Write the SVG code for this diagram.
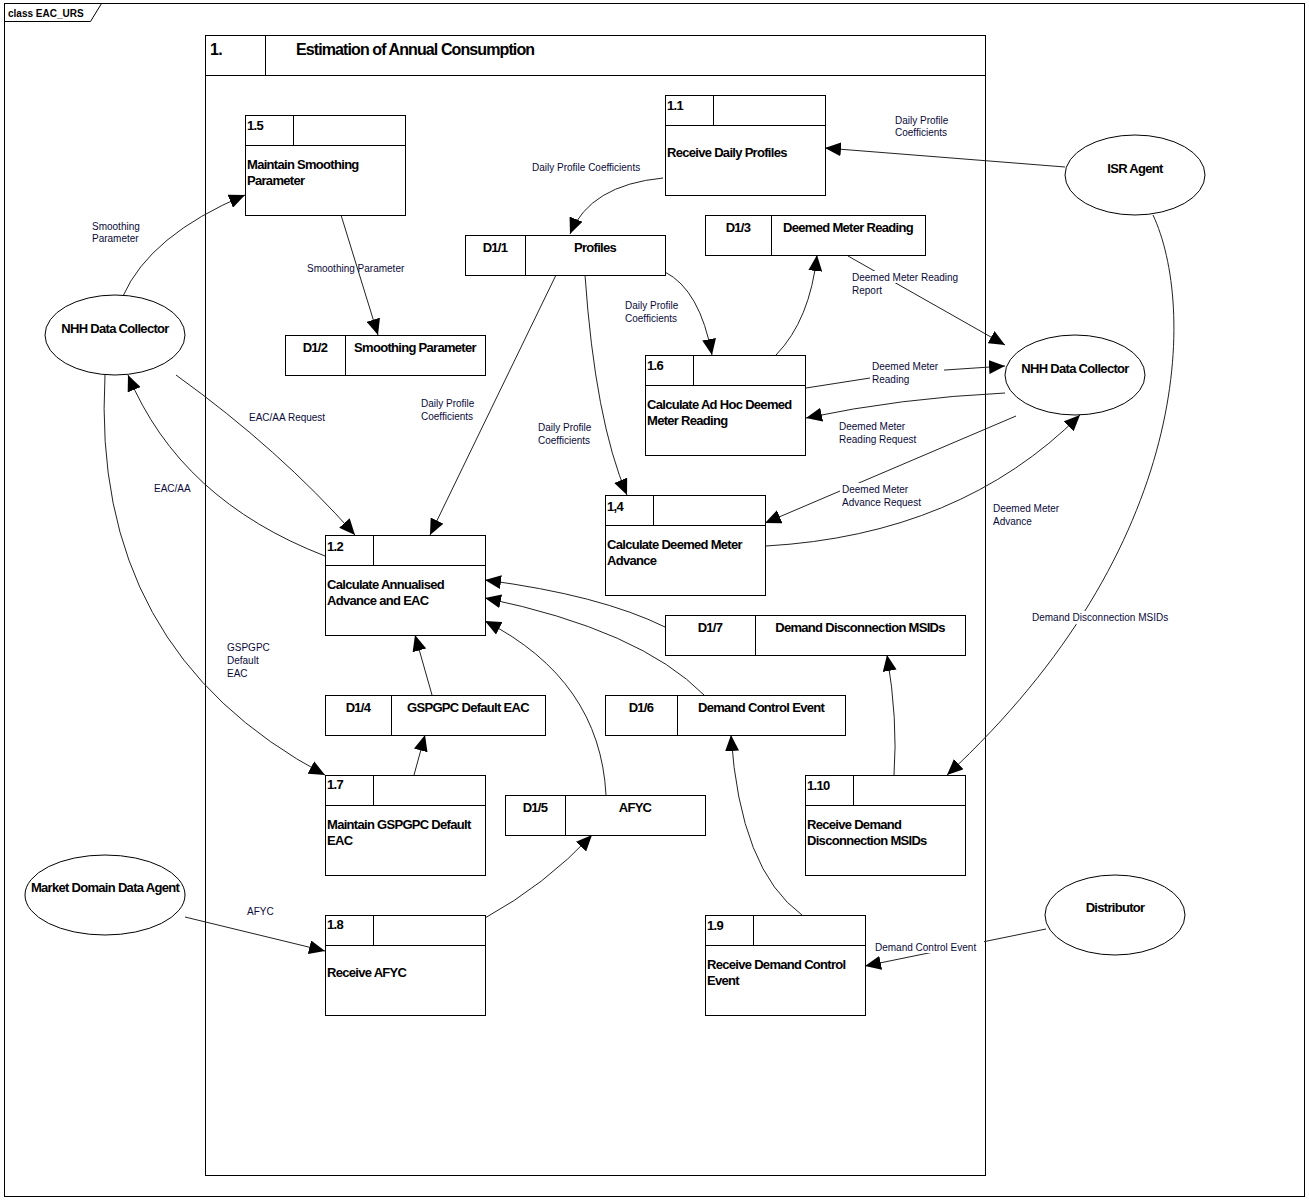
<svg xmlns="http://www.w3.org/2000/svg" width="1309" height="1201" viewBox="0 0 1309 1201">
<style>
.box{fill:#fff;stroke:#000;stroke-width:1}
.ln{fill:none;stroke:#000;stroke-width:1}
.edge{fill:none;stroke:#222;stroke-width:1;marker-end:url(#arr)}
.nt{font-family:"Liberation Sans",Arial,sans-serif;font-weight:bold;font-size:13px;letter-spacing:-0.7px;fill:#000}
.ds{font-family:"Liberation Sans",Arial,sans-serif;font-weight:bold;font-size:13px;letter-spacing:-0.7px;fill:#000;text-anchor:middle}
.el{font-family:"Liberation Sans",Arial,sans-serif;font-size:10px;fill:#0a0a3a}
.bg{fill:#fff}
</style>
<defs>
<marker id="arr" markerUnits="userSpaceOnUse" markerWidth="16" markerHeight="14" viewBox="0 0 16 14" refX="16" refY="7" orient="auto">
<path d="M0,0 L16,7 L0,14 z" fill="#000"/>
</marker>
</defs>
<rect width="1309" height="1201" fill="#fff"/>
<g id="frame">
<rect class="ln" x="4.5" y="3.5" width="1300" height="1193"/>
<path class="ln" d="M4.5,21.5 L90.5,21.5 L101.5,3.5"/>
<text x="8" y="17" font-family="Liberation Sans,Arial,sans-serif" font-weight="bold" font-size="10">class EAC_URS</text>
</g>
<g id="container">
<rect class="box" x="205.5" y="35.5" width="780" height="1140"/>
<path class="ln" d="M205.5,75.5 H985.5 M265.5,35.5 V75.5"/>
<text x="210" y="55" class="nt" style="font-size:16px">1.</text>
<text x="296" y="55" class="nt" style="font-size:16px;letter-spacing:-0.9px">Estimation of Annual Consumption</text>
</g>

<g id="connectors">
<path class="edge" d="M123,296 Q150,235 245,195"/>
<path class="edge" d="M341,215 L378,335"/>
<path class="edge" d="M663,178 Q590,185 570,234"/>
<path class="edge" d="M1065,167 L825,148"/>
<path class="edge" d="M556,275 L430,535"/>
<path class="edge" d="M585,275 Q595,420 627,495"/>
<path class="edge" d="M665,272 Q700,290 712,355"/>
<path class="edge" d="M776,355 Q810,320 817,255"/>
<path class="edge" d="M848,256 L1005,345"/>
<path class="edge" d="M806,388 L870,378 L945,370 L1005,366"/>
<path class="edge" d="M1005,393 Q900,398 806,418"/>
<path class="edge" d="M1016,416 L765,523"/>
<path class="edge" d="M766,546 Q960,535 1080,415"/>
<path class="edge" d="M176,375 Q280,450 355,535"/>
<path class="edge" d="M325,556 Q180,500 128,375"/>
<path class="edge" d="M105,375 Q90,650 325,775"/>
<path class="edge" d="M414,775 L425,735"/>
<path class="edge" d="M432,695 L415,635"/>
<path class="edge" d="M606,795 Q600,680 485,621"/>
<path class="edge" d="M704,695 Q640,630 485,598"/>
<path class="edge" d="M665,627 Q600,595 485,580"/>
<path class="edge" d="M894,775 Q898,720 887,655"/>
<path class="edge" d="M1153,215 C1195,305 1195,545 947,775"/>
<path class="edge" d="M802,915 Q740,870 731,735"/>
<path class="edge" d="M485,918 Q545,885 592,835"/>
<path class="edge" d="M185,917 L325,951"/>
<path class="edge" d="M1046,929 L865,966"/>
<g id="labels">
<text class="el" x="92" y="229.5">Smoothing</text>
<text class="el" x="92" y="242">Parameter</text>
<text class="el" x="307" y="271.5">Smoothing Parameter</text>
<text class="el" x="532" y="171">Daily Profile Coefficients</text>
<text class="el" x="895" y="123.5">Daily Profile</text>
<text class="el" x="895" y="136">Coefficients</text>
<text class="el" x="625" y="309">Daily Profile</text>
<text class="el" x="625" y="322">Coefficients</text>
<rect class="bg" x="850" y="271" width="116" height="12"/>
<rect class="bg" x="850" y="284" width="36" height="12"/>
<text class="el" x="852" y="280.5">Deemed Meter Reading</text>
<text class="el" x="852" y="293.5">Report</text>
<rect class="bg" x="870" y="360" width="74" height="25"/>
<text class="el" x="872" y="369.5">Deemed Meter</text>
<text class="el" x="872" y="382.5">Reading</text>
<text class="el" x="839" y="429.5">Deemed Meter</text>
<text class="el" x="839" y="442.5">Reading Request</text>
<rect class="bg" x="840" y="483" width="86" height="25"/>
<text class="el" x="842" y="492.5">Deemed Meter</text>
<text class="el" x="842" y="505.5">Advance Request</text>
<text class="el" x="993" y="511.5">Deemed Meter</text>
<text class="el" x="993" y="524.5">Advance</text>
<text class="el" x="421" y="406.5">Daily Profile</text>
<text class="el" x="421" y="419.5">Coefficients</text>
<text class="el" x="538" y="430.5">Daily Profile</text>
<text class="el" x="538" y="443.5">Coefficients</text>
<text class="el" x="249" y="420.5">EAC/AA Request</text>
<text class="el" x="154" y="491.5">EAC/AA</text>
<text class="el" x="227" y="650.5">GSPGPC</text>
<text class="el" x="227" y="663.5">Default</text>
<text class="el" x="227" y="676.5">EAC</text>
<rect class="bg" x="1030" y="611" width="146" height="13"/>
<text class="el" x="1032" y="620.5">Demand Disconnection MSIDs</text>
<text class="el" x="247" y="914.5">AFYC</text>
<rect class="bg" x="874" y="940" width="110" height="13"/>
<text class="el" x="875" y="950.5">Demand Control Event</text>
</g>
</g>

<g id="p1_5"><rect class="box" x="245.5" y="115.5" width="160" height="100"/><path class="ln" d="M245.5,145.5 H405.5 M293.5,115.5 V145.5"/><text class="nt" x="247" y="130">1.5</text><text class="nt" x="247" y="169">Maintain Smoothing</text><text class="nt" x="247" y="185">Parameter</text></g>
<g id="p1_1"><rect class="box" x="665.5" y="95.5" width="160" height="100"/><path class="ln" d="M665.5,125.5 H825.5 M713.5,95.5 V125.5"/><text class="nt" x="667" y="110">1.1</text><text class="nt" x="667" y="157">Receive Daily Profiles</text></g>
<g id="p1_6"><rect class="box" x="645.5" y="355.5" width="160" height="100"/><path class="ln" d="M645.5,385.5 H805.5 M693.5,355.5 V385.5"/><text class="nt" x="647" y="370">1.6</text><text class="nt" x="647" y="409">Calculate Ad Hoc Deemed</text><text class="nt" x="647" y="425">Meter Reading</text></g>
<g id="p1_4"><rect class="box" x="605.5" y="495.5" width="160" height="100"/><path class="ln" d="M605.5,525.5 H765.5 M653.5,495.5 V525.5"/><text class="nt" x="607" y="511">1,4</text><text class="nt" x="607" y="549">Calculate Deemed Meter</text><text class="nt" x="607" y="565">Advance</text></g>
<g id="p1_2"><rect class="box" x="325.5" y="535.5" width="160" height="100"/><path class="ln" d="M325.5,565.5 H485.5 M373.5,535.5 V565.5"/><text class="nt" x="327" y="551">1.2</text><text class="nt" x="327" y="589">Calculate Annualised</text><text class="nt" x="327" y="605">Advance and EAC</text></g>
<g id="p1_7"><rect class="box" x="325.5" y="775.5" width="160" height="100"/><path class="ln" d="M325.5,805.5 H485.5 M373.5,775.5 V805.5"/><text class="nt" x="327" y="789">1.7</text><text class="nt" x="327" y="829">Maintain GSPGPC Default</text><text class="nt" x="327" y="845">EAC</text></g>
<g id="p1_8"><rect class="box" x="325.5" y="915.5" width="160" height="100"/><path class="ln" d="M325.5,945.5 H485.5 M373.5,915.5 V945.5"/><text class="nt" x="327" y="929">1.8</text><text class="nt" x="327" y="977">Receive AFYC</text></g>
<g id="p1_9"><rect class="box" x="705.5" y="915.5" width="160" height="100"/><path class="ln" d="M705.5,945.5 H865.5 M753.5,915.5 V945.5"/><text class="nt" x="707" y="930">1.9</text><text class="nt" x="707" y="969">Receive Demand Control</text><text class="nt" x="707" y="985">Event</text></g>
<g id="p1_10"><rect class="box" x="805.5" y="775.5" width="160" height="100"/><path class="ln" d="M805.5,805.5 H965.5 M853.5,775.5 V805.5"/><text class="nt" x="807" y="790">1.10</text><text class="nt" x="807" y="829">Receive Demand</text><text class="nt" x="807" y="845">Disconnection MSIDs</text></g>

<g id="d1_1"><rect class="box" x="465.5" y="235.5" width="200" height="40"/><path class="ln" d="M525.5,235.5 V275.5"/><text class="ds" x="495" y="252">D1/1</text><text class="ds" x="595" y="252">Profiles</text></g>
<g id="d1_3"><rect class="box" x="705.5" y="215.5" width="220" height="40"/><path class="ln" d="M771.5,215.5 V255.5"/><text class="ds" x="738" y="232">D1/3</text><text class="ds" x="848" y="232">Deemed Meter Reading</text></g>
<g id="d1_2"><rect class="box" x="285.5" y="335.5" width="200" height="40"/><path class="ln" d="M345.5,335.5 V375.5"/><text class="ds" x="315" y="352">D1/2</text><text class="ds" x="415" y="352">Smoothing Parameter</text></g>
<g id="d1_7"><rect class="box" x="665.5" y="615.5" width="300" height="40"/><path class="ln" d="M755.5,615.5 V655.5"/><text class="ds" x="710" y="632">D1/7</text><text class="ds" x="860" y="632">Demand Disconnection MSIDs</text></g>
<g id="d1_4"><rect class="box" x="325.5" y="695.5" width="220" height="40"/><path class="ln" d="M391.5,695.5 V735.5"/><text class="ds" x="358" y="712">D1/4</text><text class="ds" x="468" y="712">GSPGPC Default EAC</text></g>
<g id="d1_6"><rect class="box" x="605.5" y="695.5" width="240" height="40"/><path class="ln" d="M677.5,695.5 V735.5"/><text class="ds" x="641" y="712">D1/6</text><text class="ds" x="761" y="712">Demand Control Event</text></g>
<g id="d1_5"><rect class="box" x="505.5" y="795.5" width="200" height="40"/><path class="ln" d="M565.5,795.5 V835.5"/><text class="ds" x="535" y="812">D1/5</text><text class="ds" x="635" y="812">AFYC</text></g>

<g id="nhh_left"><ellipse class="box" cx="115" cy="335" rx="70" ry="40"/><text class="ds" x="115" y="333">NHH Data Collector</text></g>
<g id="isr"><ellipse class="box" cx="1135" cy="175" rx="70" ry="40"/><text class="ds" x="1135" y="173">ISR Agent</text></g>
<g id="nhh_right"><ellipse class="box" cx="1075" cy="375" rx="70" ry="40"/><text class="ds" x="1075" y="373">NHH Data Collector</text></g>
<g id="mdda"><ellipse class="box" cx="105" cy="895" rx="80" ry="40"/><text class="ds" x="105" y="892">Market Domain Data Agent</text></g>
<g id="distributor"><ellipse class="box" cx="1115" cy="915" rx="70" ry="40"/><text class="ds" x="1115" y="912">Distributor</text></g>
</svg>
